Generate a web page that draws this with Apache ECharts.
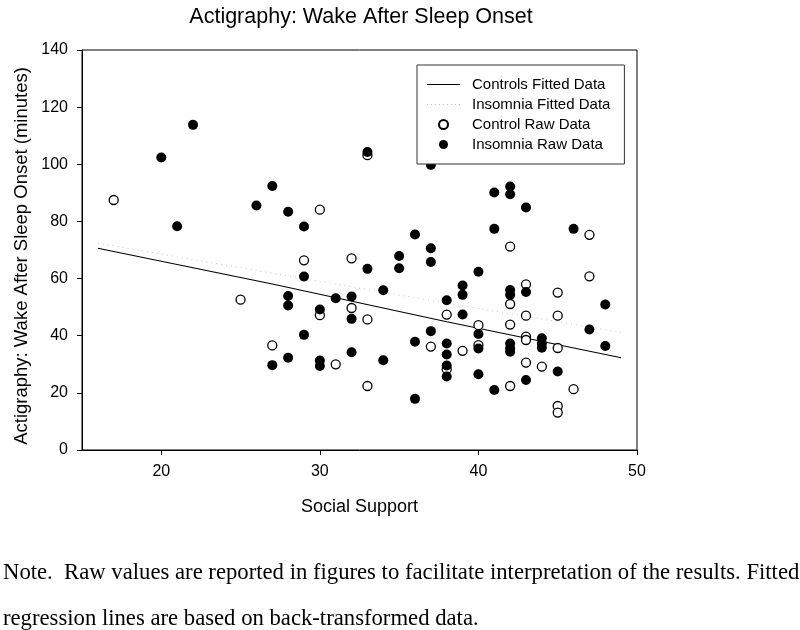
<!DOCTYPE html>
<html>
<head>
<meta charset="utf-8">
<script src="https://cdn.jsdelivr.net/npm/echarts@6/dist/echarts.min.js"></script>
<style>html,body{margin:0;padding:0;background:#fff;}#c{width:800px;height:630px;}</style>
</head>
<body>
<div id="c"></div>
<script>
// ---- data ----
var titleText = 'Actigraphy: Wake After Sleep Onset';
var xName = 'Social Support';
var yName = 'Actigraphy: Wake After Sleep Onset (minutes)';
var xTicks = [20, 30, 40, 50];
var noteLine1 = 'Note.  Raw values are reported in figures to facilitate interpretation of the results. Fitted';
var noteLine2 = 'regression lines are based on back-transformed data.';

var controlsFitX = [16, 27, 38, 49];
var controlsFitY = [70.6, 58.1, 44.9, 32.3];
var insomniaFitX = [16, 27, 38, 49];
var insomniaFitY = [72.4, 61.9, 51.4, 41.2];

var controlRaw = [
  [17,87.5],[25,52.6],[27,36.6],[29,66.4],[30,84.1],[30,47.2],[31,30.0],[32,67.1],[32,49.7],
  [33,103.2],[33,45.7],[33,22.4],[37,36.2],[38,47.4],[38,28.3],[39,34.7],[40,43.7],[40,36.7],
  [42,71.2],[42,51.1],[42,43.9],[42,22.4],[43,58.0],[43,47.0],[43,39.7],[43,38.5],[43,30.6],
  [44,29.2],[45,55.1],[45,47.0],[45,35.7],[45,15.4],[45,13.1],[46,21.3],[47,75.3],[47,60.8]
];
var insomniaRaw = [
  [20,102.4],[21,78.3],[22,113.8],[26,85.6],[27,92.4],[27,29.7],[28,83.4],[28,53.9],[28,50.6],
  [28,32.3],[29,78.2],[29,60.7],[29,40.3],[30,49.2],[30,31.3],[30,29.4],[31,53.1],[32,53.7],
  [32,45.9],[32,34.2],[33,104.3],[33,63.4],[34,55.9],[34,31.4],[35,67.9],[35,63.6],[36,75.4],
  [36,37.9],[36,17.9],[37,99.8],[37,70.6],[37,65.8],[37,41.6],[38,52.4],[38,37.3],[38,33.4],
  [38,29.6],[38,25.7],[39,57.6],[39,54.3],[39,47.4],[40,62.4],[40,40.6],[40,35.5],[40,26.5],
  [41,90.1],[41,77.4],[41,21.0],[42,92.2],[42,89.5],[42,56.0],[42,54.3],[42,37.3],[42,35.6],
  [42,34.4],[43,84.9],[43,55.3],[43,24.5],[44,39.1],[44,37.3],[44,35.8],[45,27.5],[46,77.4],
  [47,42.2],[48,50.9],[48,36.4]
];

function zip(xs, ys) { return xs.map(function (x, i) { return [x, ys[i]]; }); }

// legend icons (styling only)
var solidIcon = 'path://M0,0H33V1.2H0Z';
var dotIcon = 'path://';
for (var k = 0; k <= 32; k += 4) { dotIcon += 'M' + k + ',0h1.2v1.2h-1.2Z'; }

var FONT = 'Liberation Sans, Arial, sans-serif';
var SERIF = 'Liberation Serif, Times New Roman, serif';
var chart = echarts.init(document.getElementById('c'), null, {renderer: 'canvas'});
chart.setOption({
  animation: false,
  backgroundColor: '#fff',
  textStyle: {fontFamily: FONT, color: '#000'},
  title: {
    text: titleText, left: 356, top: 1, textAlign: 'center',
    textStyle: {fontFamily: FONT, fontSize: 21.5, fontWeight: 'normal', color: '#000'}
  },
  grid: {left: 82, right: 163, top: 50, bottom: 180, show: true, borderColor: '#000', borderWidth: 1, containLabel: false},
  xAxis: {
    type: 'value', min: 15, max: 50,
    name: xName, nameLocation: 'middle', nameGap: 48,
    nameTextStyle: {fontFamily: FONT, fontSize: 18, color: '#000'},
    axisLine: {show: true, lineStyle: {color: '#000', width: 1}},
    axisTick: {show: true, length: 5, lineStyle: {color: '#000'}, customValues: xTicks},
    axisLabel: {fontFamily: FONT, fontSize: 16, color: '#000', margin: 14, customValues: xTicks},
    splitLine: {show: false}
  },
  yAxis: {
    type: 'value', min: 0, max: 140, interval: 20,
    axisLine: {show: true, lineStyle: {color: '#000', width: 1}},
    axisTick: {show: true, length: 5, lineStyle: {color: '#000'}},
    axisLabel: {fontFamily: FONT, fontSize: 16, color: '#000', margin: 14},
    splitLine: {show: false}
  },
  legend: {
    orient: 'vertical', left: 417, top: 65,
    padding: [12, 14, 12, 10], itemGap: 5,
    itemWidth: 33, itemHeight: 9,
    backgroundColor: '#fff', borderColor: '#333', borderWidth: 1,
    textStyle: {fontFamily: FONT, fontSize: 15, color: '#000', lineHeight: 15, padding: [0, 0, 0, 7]},
    data: [
      {name: 'Controls Fitted Data', icon: solidIcon},
      {name: 'Insomnia Fitted Data', icon: dotIcon},
      {name: 'Control Raw Data'},
      {name: 'Insomnia Raw Data'}
    ],
    z: 10
  },
  series: [
    {
      name: 'Controls Fitted Data', type: 'line', data: zip(controlsFitX, controlsFitY),
      symbol: 'none', lineStyle: {color: '#000', width: 1.1}, itemStyle: {color: '#000'}, z: 2
    },
    {
      name: 'Insomnia Fitted Data', type: 'line', data: zip(insomniaFitX, insomniaFitY),
      symbol: 'none', lineStyle: {color: '#c4c4c4', width: 1, type: [1, 4]}, itemStyle: {color: '#c4c4c4'}, z: 2
    },
    {
      name: 'Control Raw Data', type: 'scatter', data: controlRaw,
      symbol: 'circle', symbolSize: 9,
      itemStyle: {color: '#fff', borderColor: '#000', borderWidth: 1.3, opacity: 1}, z: 3
    },
    {
      name: 'Insomnia Raw Data', type: 'scatter', data: insomniaRaw,
      symbol: 'circle', symbolSize: 10,
      itemStyle: {color: '#000', opacity: 1}, z: 4
    }
  ],
  graphic: [
    {type: 'text', x: 22, y: 256, rotation: Math.PI / 2,
     style: {text: yName, fontFamily: FONT, fontSize: 18.5, fill: '#000', align: 'center', verticalAlign: 'middle'}},
    {type: 'text', left: 3, top: 562, style: {text: noteLine1, fontFamily: SERIF, fontSize: 22.7, fill: '#000'}},
    {type: 'text', left: 3, top: 608, style: {text: noteLine2, fontFamily: SERIF, fontSize: 22.7, fill: '#000'}}
  ]
});
</script>
</body>
</html>
